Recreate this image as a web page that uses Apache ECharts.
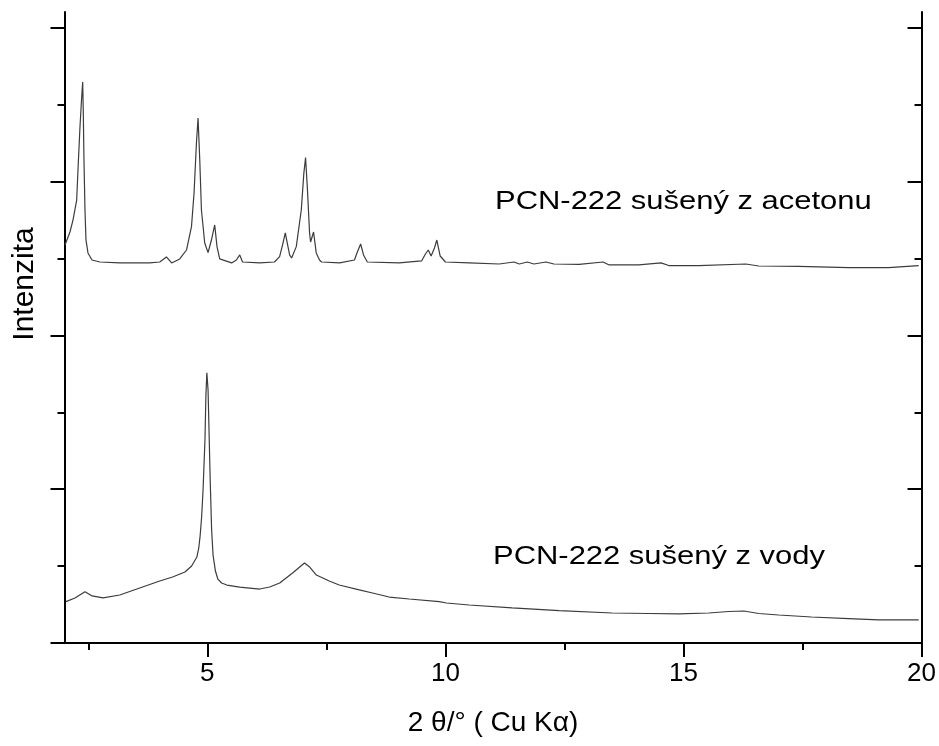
<!DOCTYPE html>
<html>
<head>
<meta charset="utf-8">
<script src="https://cdn.jsdelivr.net/npm/echarts@6/dist/echarts.min.js"></script>
<style>
html,body{margin:0;padding:0;background:#fff;}
#c{width:939px;height:746px;}
</style>
</head>
<body>
<div id="c"></div>
<script>
// 2θ values and intensities (arbitrary units, offset traces)
const acetonX = [2.01,2.115,2.178,2.256,2.283,2.325,2.361,2.382,2.394,2.409,2.43,2.451,2.493,2.577,2.744,3.16,3.79,4.00,4.14,4.25,4.42,4.562,4.667,4.721,4.771,4.805,4.841,4.876,4.945,5.015,5.086,5.155,5.203,5.26,5.30,5.51,5.61,5.68,5.74,6.10,6.41,6.518,6.58,6.637,6.686,6.728,6.77,6.868,6.973,7.027,7.063,7.099,7.147,7.168,7.231,7.287,7.356,7.40,7.78,8.09,8.15,8.22,8.28,8.36,9.03,9.50,9.58,9.64,9.70,9.77,9.82,9.89,10.00,10.50,11.13,11.44,11.55,11.72,11.86,12.11,12.28,12.81,13.31,13.44,14.06,14.53,14.69,15.32,16.31,16.58,17.42,18.47,19.31,19.94];
const acetonY = [2.589,2.673,2.751,2.881,3.076,3.356,3.551,3.649,3.467,3.141,2.816,2.622,2.537,2.491,2.478,2.472,2.472,2.478,2.511,2.472,2.498,2.556,2.708,2.927,3.252,3.415,3.141,2.816,2.602,2.539,2.621,2.719,2.578,2.498,2.485,2.472,2.491,2.524,2.478,2.472,2.478,2.513,2.589,2.667,2.589,2.524,2.504,2.578,2.816,3.056,3.157,2.970,2.667,2.608,2.673,2.537,2.491,2.478,2.472,2.491,2.543,2.595,2.524,2.478,2.472,2.485,2.530,2.556,2.517,2.569,2.621,2.517,2.478,2.472,2.465,2.478,2.465,2.478,2.465,2.478,2.465,2.462,2.478,2.459,2.459,2.472,2.455,2.455,2.465,2.452,2.449,2.442,2.442,2.455];

const vodaX = [2.03,2.22,2.43,2.58,2.81,3.16,3.58,4.00,4.27,4.53,4.67,4.78,4.82,4.85,4.88,4.91,4.95,4.97,4.99,5.015,5.035,5.06,5.09,5.12,5.17,5.22,5.30,5.41,5.68,6.10,6.31,6.52,6.79,6.94,7.04,7.15,7.29,7.56,7.77,8.19,8.47,8.82,9.24,9.87,10.02,10.50,11.40,12.39,13.50,14.27,14.90,15.53,15.95,16.27,16.58,17.00,17.69,18.47,19.10,19.94];
const vodaY = [0.269,0.293,0.334,0.306,0.293,0.312,0.358,0.403,0.429,0.462,0.501,0.559,0.618,0.702,0.820,0.995,1.320,1.613,1.758,1.646,1.385,1.060,0.735,0.572,0.468,0.416,0.390,0.377,0.364,0.351,0.364,0.390,0.455,0.494,0.520,0.494,0.442,0.403,0.377,0.345,0.325,0.299,0.286,0.269,0.260,0.247,0.228,0.211,0.195,0.192,0.189,0.195,0.205,0.208,0.192,0.182,0.169,0.159,0.150,0.150];

const xMajorTicks = [5,10,15,20];
const xMinorTicks = [2.5,7.5,12.5,17.5];
const yMajorTicks = [0,1,2,3,4];
const yMinorTicks = [0.5,1.5,2.5,3.5];
const labels = ['PCN-222 sušený z acetonu','PCN-222 sušený z vody'];

const FONT = '"Liberation Sans", Arial, sans-serif';
const X_MIN = 2, X_MAX = 20, Y_MIN = 0, Y_MAX = 4.104;

function zip(a,b){ return a.map((v,i)=>[v,b[i]]); }

const lineAx = {show:true, lineStyle:{color:'#000', width:2}};
function xAx(pos, ticks, len, inside, showLine, labelsOn, extra){
  return Object.assign({
    type:'value', position:pos, min:X_MIN, max:X_MAX,
    axisLine: showLine ? lineAx : {show:false},
    axisTick:{show:true, inside:inside, length:len, customValues:ticks, lineStyle:{color:'#000', width:2}},
    axisLabel: labelsOn ? {show:true, customValues:ticks, color:'#000', fontSize:26, fontFamily:FONT, margin:18} : {show:false},
    splitLine:{show:false}, minorTick:{show:false}
  }, extra||{});
}
function yAx(pos, ticks, len, inside, showLine, extra){
  return Object.assign({
    type:'value', position:pos, min:Y_MIN, max:Y_MAX,
    axisLine: showLine ? lineAx : {show:false},
    axisTick:{show:true, inside:inside, length:len, customValues:ticks, lineStyle:{color:'#000', width:2}},
    axisLabel:{show:false},
    splitLine:{show:false}, minorTick:{show:false}
  }, extra||{});
}

const chart = echarts.init(document.getElementById('c'), null, {renderer:'canvas'});
chart.setOption({
  backgroundColor:'#fff',
  animation:false,
  grid:{left:64.5, right:16.5, top:12, bottom:103, containLabel:false},
  xAxis:[
    xAx('bottom', xMajorTicks, 14, false, true, true, {
      name:'2 θ/° ( Cu Kα)', nameLocation:'middle', nameGap:66,
      nameTextStyle:{color:'#000', fontSize:28, fontFamily:FONT}
    }),
    xAx('bottom', xMinorTicks, 7, false, false, false),
    xAx('top', xMajorTicks, 14, true, true, false),
    xAx('top', xMinorTicks, 7, true, false, false)
  ],
  yAxis:[
    yAx('left', yMajorTicks, 14, false, true, {
      name:'Intenzita', nameLocation:'middle', nameGap:25,
      nameTextStyle:{color:'#000', fontSize:30, fontFamily:FONT, padding:[0,0,0,87]}
    }),
    yAx('left', yMinorTicks, 7, false, false),
    yAx('right', yMajorTicks, 14, true, true),
    yAx('right', yMinorTicks, 7, true, false)
  ],
  series:[
    {type:'line', name:labels[0], data:zip(acetonX, acetonY), xAxisIndex:0, yAxisIndex:0,
     showSymbol:false, symbol:'none', lineStyle:{color:'#3c3c3c', width:1.2}},
    {type:'line', name:labels[1], data:zip(vodaX, vodaY), xAxisIndex:0, yAxisIndex:0,
     showSymbol:false, symbol:'none', lineStyle:{color:'#3c3c3c', width:1.2}}
  ],
  graphic:[
    {type:'text', x:495, y:202, scaleX:1.19, style:{text:labels[0], fill:'#000', font:'26px ' + FONT, textVerticalAlign:'middle', verticalAlign:'middle'}},
    {type:'text', x:493, y:557, scaleX:1.19, style:{text:labels[1], fill:'#000', font:'26px ' + FONT, textVerticalAlign:'middle', verticalAlign:'middle'}}
  ]
});
</script>
</body>
</html>
